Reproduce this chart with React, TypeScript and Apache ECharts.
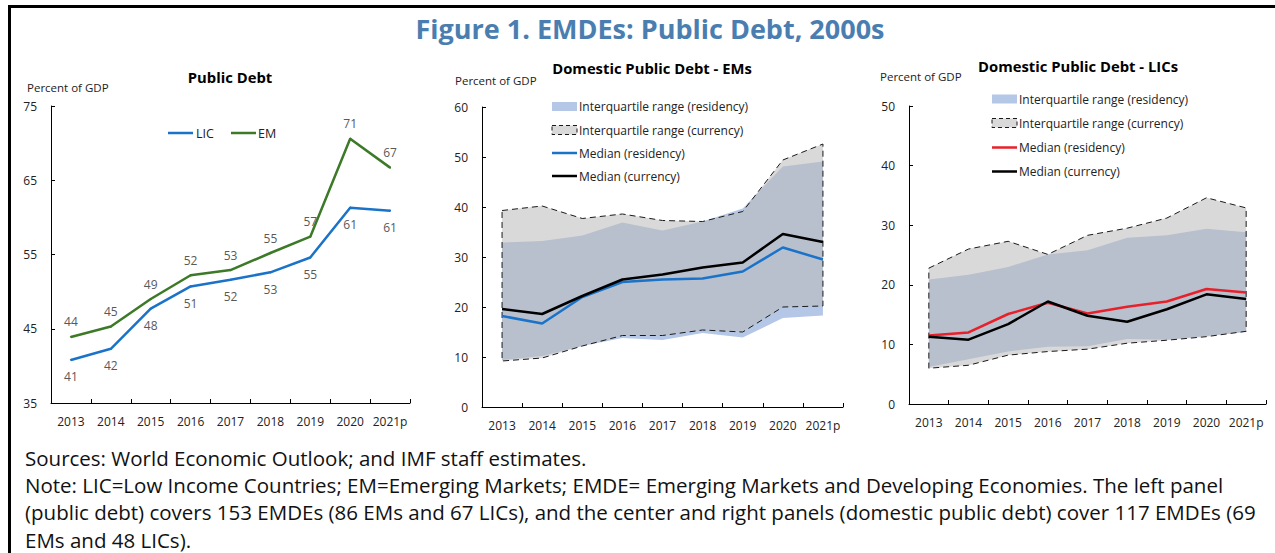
import React, { useEffect, useRef } from "react";
import * as echarts from "echarts";

const years = ["2013", "2014", "2015", "2016", "2017", "2018", "2019", "2020", "2021p"];

// Left panel: Public debt (percent of GDP)
const licDebt = [40.8, 42.3, 47.7, 50.7, 51.6, 52.6, 54.6, 61.3, 60.9];
const emDebt = [43.9, 45.3, 49.0, 52.2, 52.9, 55.2, 57.4, 70.6, 66.7];

// Center panel: Domestic public debt - EMs
const emResLow = [9.4, 10.2, 12.2, 13.8, 13.4, 14.8, 13.9, 17.8, 18.3];
const emResHigh = [32.9, 33.2, 34.3, 36.9, 35.3, 37.1, 39.7, 48.1, 49.1];
const emCurLow = [9.2, 9.8, 12.2, 14.3, 14.3, 15.4, 15.0, 20.0, 20.2];
const emCurHigh = [39.3, 40.2, 37.7, 38.6, 37.3, 37.1, 39.1, 49.4, 52.6];
const emResMedian = [18.2, 16.7, 22.0, 25.0, 25.5, 25.7, 27.1, 31.9, 29.5];
const emCurMedian = [19.6, 18.6, 22.2, 25.5, 26.5, 27.9, 28.9, 34.6, 33.0];

// Right panel: Domestic public debt - LICs
const licResLow = [6.2, 7.5, 8.8, 9.6, 9.7, 10.9, 10.8, 11.4, 12.1];
const licResHigh = [20.9, 21.7, 23.0, 25.1, 25.8, 27.9, 28.3, 29.4, 28.8];
const licCurLow = [6.0, 6.5, 8.2, 8.8, 9.2, 10.2, 10.7, 11.3, 12.2];
const licCurHigh = [22.8, 26.0, 27.3, 25.1, 28.3, 29.5, 31.2, 34.6, 32.9];
const licResMedian = [11.5, 12.0, 15.1, 17.0, 15.2, 16.3, 17.2, 19.3, 18.7];
const licCurMedian = [11.3, 10.8, 13.4, 17.2, 14.8, 13.8, 15.9, 18.4, 17.6];

const FONT = "Open Sans";
const BLUE = "#1a73c8";
const GREEN = "#3c7a27";
const RED = "#e8202a";
const BAND_BLUE = "#b4c7e7";
const BAND_GREY = "rgba(187,187,187,0.56)";

function xAxisDef(gridIndex: number) {
  return {
    type: "category",
    gridIndex,
    data: years,
    boundaryGap: true,
    axisLine: { lineStyle: { color: "#000", width: 1 } },
    axisTick: { show: true, inside: true, length: 4, lineStyle: { color: "#000" } },
    axisLabel: { fontSize: 12, color: "#222", margin: 12, fontFamily: FONT, interval: 0 },
    splitLine: { show: false },
  };
}

function yAxisDef(gridIndex: number, min: number, max: number) {
  return {
    type: "value",
    gridIndex,
    min,
    max,
    interval: 10,
    axisLine: { show: true, lineStyle: { color: "#000", width: 1 } },
    axisTick: { show: true, inside: true, length: 4, lineStyle: { color: "#000" } },
    axisLabel: { fontSize: 12, color: "#222", margin: 14, fontFamily: FONT },
    splitLine: { show: false },
  };
}

function bandSeries(lo: number[], hi: number[], axis: number, style: any) {
  return {
    type: "custom",
    xAxisIndex: axis,
    yAxisIndex: axis,
    silent: true,
    encode: { x: 0, y: [1, 2] },
    data: lo.map((v, i) => [i, v, hi[i]]),
    renderItem: (params: any, api: any) => {
      if (params.dataIndex !== 0) return null;
      const pts: number[][] = [];
      for (let i = 0; i < hi.length; i++) pts.push(api.coord([i, hi[i]]));
      for (let i = lo.length - 1; i >= 0; i--) pts.push(api.coord([i, lo[i]]));
      return { type: "polygon", shape: { points: pts }, style };
    },
  };
}

function lineSeries(name: string, data: number[], axis: number, color: string, label?: any) {
  return {
    type: "line",
    name,
    xAxisIndex: axis,
    yAxisIndex: axis,
    data,
    symbol: label ? "circle" : "none",
    symbolSize: 2,
    showSymbol: !!label,
    lineStyle: { color, width: 2.5 },
    itemStyle: { color },
    label: label || { show: false },
  };
}

function txt(text: string, x: number, y: number, size: number, opts: any = {}) {
  return {
    type: "text",
    x,
    y,
    silent: true,
    style: {
      text,
      fontSize: size,
      fontFamily: FONT,
      fill: opts.fill || "#222",
      fontWeight: opts.bold ? "bold" : "normal",
      align: opts.align || "left",
      verticalAlign: "middle",
    },
  };
}

function legendLine(x: number, y: number, color: string) {
  return {
    type: "line",
    silent: true,
    shape: { x1: x, y1: y, x2: x + 25, y2: y },
    style: { stroke: color, lineWidth: 2.5 },
  };
}

function legendRect(x: number, y: number, fill: string, dashed: boolean) {
  return {
    type: "rect",
    silent: true,
    shape: { x, y: y - 4.5, width: 25, height: 9 },
    style: dashed
      ? { fill: "#d9d9d9", stroke: "#1a1a1a", lineWidth: 1, lineDash: [4, 3] }
      : { fill },
  };
}

function panelLegend(x: number, rows: number[], resColor: string) {
  const tx = x + 27;
  return [
    legendRect(x, rows[0], BAND_BLUE, false),
    txt("Interquartile range (residency)", tx, rows[0], 12),
    legendRect(x, rows[1], BAND_GREY, true),
    txt("Interquartile range (currency)", tx, rows[1], 12),
    legendLine(x, rows[2], resColor),
    txt("Median (residency)", tx, rows[2], 12),
    legendLine(x, rows[3], "#000"),
    txt("Median (currency)", tx, rows[3], 12),
  ];
}

export default function App() {
  const ref = useRef<HTMLDivElement>(null);

  useEffect(() => {
    if (!ref.current) return;
    const chart = echarts.init(ref.current, null, { renderer: "svg" });
    const labelTop = {
      show: true,
      position: "top",
      distance: 8,
      color: "#595959",
      textBorderWidth: 0,
      fontSize: 12,
      fontFamily: FONT,
      formatter: (p: any) => String(Math.round(p.value)),
    };
    const labelBottom = { ...labelTop, position: "bottom", distance: 10 };

    const option: any = {
      animation: false,
      backgroundColor: "#fff",
      textStyle: { fontFamily: FONT },
      grid: [
        { left: 51, top: 106, width: 359, height: 297 },
        { left: 482, top: 107, width: 361, height: 300 },
        { left: 909, top: 106, width: 357, height: 298 },
      ],
      xAxis: [xAxisDef(0), xAxisDef(1), xAxisDef(2)],
      yAxis: [yAxisDef(0, 35, 75), yAxisDef(1, 0, 60), yAxisDef(2, 0, 50)],
      series: [
        lineSeries("LIC", licDebt, 0, BLUE, labelBottom),
        lineSeries("EM", emDebt, 0, GREEN, labelTop),
        bandSeries(emResLow, emResHigh, 1, { fill: BAND_BLUE }),
        bandSeries(emCurLow, emCurHigh, 1, {
          fill: BAND_GREY,
          stroke: "#1a1a1a",
          lineWidth: 1,
          lineDash: [6, 4],
        }),
        lineSeries("Median (residency)", emResMedian, 1, BLUE),
        lineSeries("Median (currency)", emCurMedian, 1, "#000"),
        bandSeries(licResLow, licResHigh, 2, { fill: BAND_BLUE }),
        bandSeries(licCurLow, licCurHigh, 2, {
          fill: BAND_GREY,
          stroke: "#1a1a1a",
          lineWidth: 1,
          lineDash: [6, 4],
        }),
        lineSeries("Median (residency) ", licResMedian, 2, RED),
        lineSeries("Median (currency) ", licCurMedian, 2, "#000"),
      ],
      graphic: [
        // frame
        { type: "rect", silent: true, shape: { x: 8, y: 5, width: 1267, height: 3 }, style: { fill: "#000" } },
        { type: "rect", silent: true, shape: { x: 8, y: 5, width: 3, height: 548 }, style: { fill: "#000" } },
        // main title
        txt("Figure 1. EMDEs: Public Debt, 2000s", 650, 28, 27, { bold: true, fill: "#4a7eb0", align: "center" }),
        // left panel
        txt("Public Debt", 230, 77, 14.8, { bold: true, align: "center", fill: "#000" }),
        txt("Percent of GDP", 27, 87, 11.5),
        legendLine(168, 133, BLUE),
        txt("LIC", 196, 133, 12.5),
        legendLine(231, 133, GREEN),
        txt("EM", 258, 133, 12.5),
        // center panel
        txt("Domestic Public Debt - EMs", 652, 68, 14.8, { bold: true, align: "center", fill: "#000" }),
        txt("Percent of GDP", 455, 80, 11.5),
        ...panelLegend(552, [106.5, 130, 153, 176], BLUE),
        // right panel
        txt("Domestic Public Debt - LICs", 1078, 66, 14.8, { bold: true, align: "center", fill: "#000" }),
        txt("Percent of GDP", 880, 76, 11.5),
        ...panelLegend(992, [99, 123, 147.5, 171.5], RED),
        // footnotes
        txt("Sources: World Economic Outlook; and IMF staff estimates.", 25, 458, 20.5, { fill: "#111" }),
        txt(
          "Note: LIC=Low Income Countries; EM=Emerging Markets; EMDE= Emerging Markets and Developing Economies. The left panel",
          25,
          485,
          20.5,
          { fill: "#111" }
        ),
        txt(
          "(public debt) covers 153 EMDEs (86 EMs and 67 LICs), and the center and right panels (domestic public debt) cover 117 EMDEs (69",
          25,
          512,
          20.5,
          { fill: "#111" }
        ),
        txt("EMs and 48 LICs).", 25, 540, 20.5, { fill: "#111" }),
      ],
    };
    chart.setOption(option);
    return () => chart.dispose();
  }, []);

  return (
    <div
      ref={ref}
      style={{ position: "fixed", left: 0, top: 0, width: 1275, height: 553, background: "#fff" }}
    />
  );
}
